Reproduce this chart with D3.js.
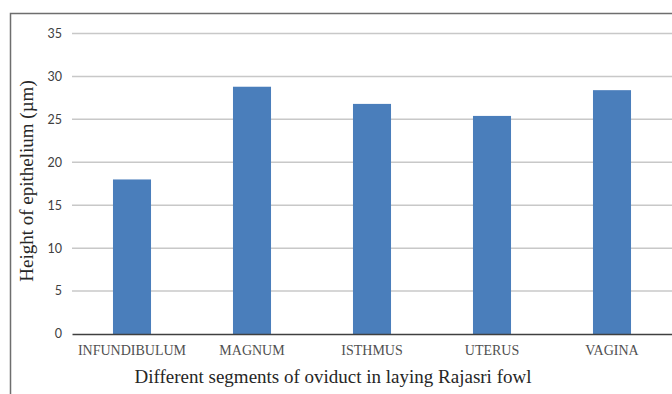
<!DOCTYPE html>
<html><head><meta charset="utf-8">
<script src="https://cdn.jsdelivr.net/npm/d3@7"></script>
<style>body{margin:0;background:#fff}svg{display:block}</style>
</head><body>
<svg id="c" width="672" height="394"></svg>
<script>
const categories = ["INFUNDIBULUM","MAGNUM","ISTHMUS","UTERUS","VAGINA"];
const values = [18.0, 28.8, 26.8, 25.4, 28.4];
const yTicks = [0,5,10,15,20,25,30,35];
const yTitle = "Height of epithelium (\u00b5m)";
const xTitle = "Different segments of oviduct in laying Rajasri fowl";

const svg = d3.select("#c");
const m = {left:72, right:672, top:33.5, bottom:334};
const x = d3.scaleBand().domain(categories).range([m.left, m.right]).paddingInner(0.683).paddingOuter(0.3415);
const y = d3.scaleLinear().domain([0,35]).range([m.bottom, m.top]);

// outer border
svg.append("path").attr("d","M10.5,400 V13.5 H680").attr("fill","none").attr("stroke","#6e6e6e").attr("stroke-width",1.5);

// gridlines
svg.append("g").selectAll("line").data(yTicks.filter(d=>d>0)).join("line")
  .attr("x1",m.left).attr("x2",m.right).attr("y1",d=>y(d)).attr("y2",d=>y(d))
  .attr("stroke","#c8c8c8").attr("stroke-width",1.5);

// y labels
svg.append("g").selectAll("text").data(yTicks).join("text")
  .attr("x",62).attr("y",d=>y(d)).attr("dy","0.35em").attr("text-anchor","end")
  .attr("font-family","Lato, 'Open Sans', sans-serif").attr("font-size",12.5).attr("fill","#404040")
  .text(d=>d);

// bars
svg.append("g").selectAll("rect").data(values).join("rect")
  .attr("x",(d,i)=>x(categories[i])).attr("width",x.bandwidth())
  .attr("y",d=>y(d)).attr("height",d=>y(0)-y(d))
  .attr("fill","#4a7ebb");

// x axis
const xa = d3.axisBottom(x).tickSize(0).tickPadding(0);
const g = svg.append("g").attr("transform",`translate(0,${m.bottom})`).call(xa)
  .attr("font-family","'Liberation Serif', 'Times New Roman', serif").attr("font-size",14);
g.select(".domain").attr("stroke","#404040").attr("stroke-width",1.5);
g.selectAll("text").attr("fill","#505050").attr("dy",0).attr("y",21);

// titles
svg.append("text").attr("x",333).attr("y",383).attr("text-anchor","middle")
  .attr("font-family","'Liberation Serif', 'Times New Roman', serif").attr("font-size",19).attr("fill","#262626").text(xTitle);
svg.append("text").attr("transform","translate(33,181) rotate(-90)").attr("text-anchor","middle")
  .attr("font-family","'Liberation Serif', 'Times New Roman', serif").attr("font-size",19).attr("fill","#262626").text(yTitle);
</script>
</body></html>
